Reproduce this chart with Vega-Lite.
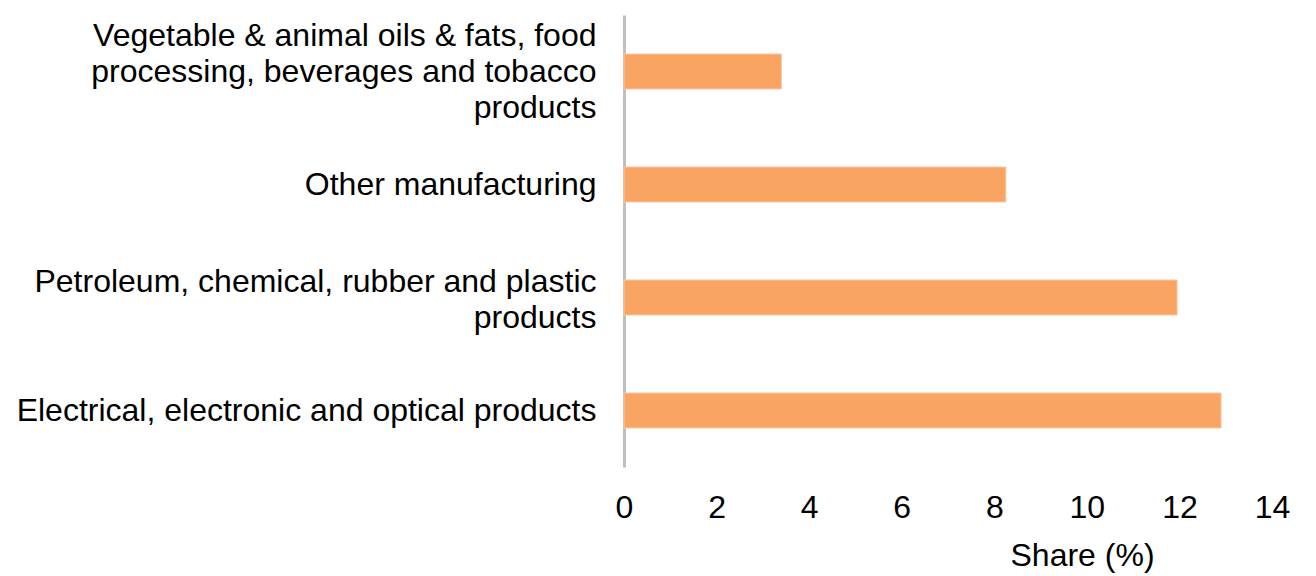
{
  "$schema": "https://vega.github.io/schema/vega-lite/v6.json",
  "autosize": "none",
  "width": 648,
  "height": 452,
  "padding": {"left": 624, "top": 15, "right": 44, "bottom": 109},
  "background": "white",
  "data": {
    "values": [
      {"sector": "Vegetable & animal oils & fats, food|processing, beverages and tobacco|products", "share": 3.4},
      {"sector": "Other manufacturing", "share": 8.25},
      {"sector": "Petroleum, chemical, rubber and plastic|products", "share": 11.95},
      {"sector": "Electrical, electronic and optical products", "share": 12.9}
    ]
  },
  "mark": {"type": "bar", "color": "#f9a463", "stroke": "#fbc9a0", "strokeWidth": 1},
  "encoding": {
    "y": {
      "field": "sector",
      "type": "nominal",
      "sort": null,
      "scale": {"paddingInner": 0.69, "paddingOuter": 0.345},
      "axis": {
        "title": null,
        "labelExpr": "split(datum.label, '|')",
        "labelFont": "Liberation Sans",
        "labelFontSize": 32,
        "labelColor": "#000000",
        "labelLineHeight": 36,
        "labelOffset": {
          "condition": [
            {"test": "length(split(datum.label, '|')) == 3", "value": -36},
            {"test": "length(split(datum.label, '|')) == 2", "value": -16}
          ],
          "value": 0
        },
        "labelPadding": 28,
        "labelLimit": 800,
        "ticks": false,
        "domainColor": "#bfbfbf",
        "domainWidth": 3,
        "grid": false
      }
    },
    "x": {
      "field": "share",
      "type": "quantitative",
      "scale": {"domain": [0, 14], "nice": false},
      "axis": {
        "title": "Share (%)",
        "values": [0, 2, 4, 6, 8, 10, 12, 14],
        "labelFont": "Liberation Sans",
        "labelFontSize": 32,
        "labelColor": "#000000",
        "labelPadding": 25,
        "labelFlush": false,
        "labelOverlap": false,
        "ticks": false,
        "domain": false,
        "grid": false,
        "titleFont": "Liberation Sans",
        "titleFontSize": 32,
        "titleFontWeight": "normal",
        "titleColor": "#000000",
        "titleX": 458,
        "titleAlign": "center",
        "titlePadding": 17
      }
    }
  },
  "config": {"view": {"stroke": null}}
}
